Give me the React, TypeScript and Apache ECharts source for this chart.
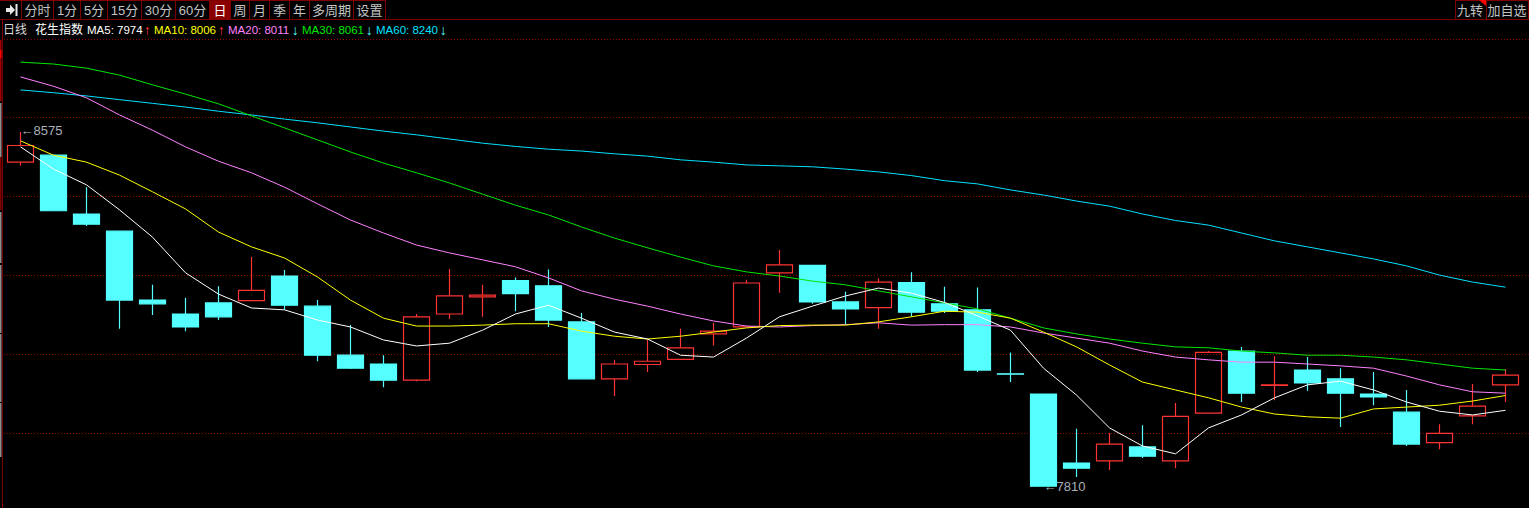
import React, { useEffect, useRef } from "react";
import * as echarts from "echarts";

const opens = [8510,8525,8398,8361,8212,8182,8206,8211,8264,8199,8093,8074,8039,8182,8219,8254,8243,8165,8042,8073,8084,8139,8154,8271,8287,8208,8196,8250,8204,8191,8053,8009,7860,7865,7895,7865,7968,8102,8028,8061,8042,8009,7970,7904,7962,8029];
const closes = [8546,8405,8376,8212,8204,8154,8176,8233,8201,8093,8065,8039,8176,8221,8223,8226,8169,8042,8074,8080,8109,8145,8249,8288,8208,8193,8251,8186,8188,8061,8052,7810,7849,7901,7875,7961,8099,8011,8029,8033,8011,8003,7901,7924,7983,8050];
const lows = [8502,8405,8372,8150,8180,8145,8169,8211,8191,8080,8063,8024,8037,8171,8176,8188,8154,8042,8005,8057,8084,8114,8154,8228,8204,8159,8150,8176,8184,8057,8035,7810,7830,7845,7871,7849,7968,7992,7996,8016,7938,7985,7897,7890,7944,7992];
const highs = [8575,8525,8456,8361,8245,8217,8242,8305,8277,8212,8158,8093,8182,8279,8245,8261,8278,8184,8083,8127,8150,8163,8256,8320,8287,8230,8259,8272,8241,8239,8099,8009,7934,7925,7942,7990,8102,8111,8091,8089,8065,8057,8018,7944,8031,8063];

const ma5 = [8543,8495,8461,8407,8348,8271,8225,8195,8191,8169,8154,8126,8113,8119,8147,8182,8201,8173,8143,8128,8093,8089,8130,8176,8199,8221,8238,8227,8207,8178,8147,8065,8007,7936,7897,7880,7936,7964,8001,8029,8037,8018,7992,7972,7964,7974];
const ma10 = [8556,8525,8510,8482,8446,8409,8359,8327,8303,8262,8212,8173,8156,8156,8158,8161,8161,8145,8134,8128,8134,8143,8152,8157,8158,8158,8165,8176,8188,8186,8173,8143,8111,8072,8035,8018,8001,7981,7966,7960,7957,7977,7981,7985,7994,8006];
const ma20 = [8694,8674,8649,8612,8579,8543,8512,8487,8456,8420,8385,8357,8331,8314,8299,8284,8260,8232,8214,8199,8182,8167,8156,8154,8157,8159,8163,8158,8159,8159,8154,8141,8130,8119,8102,8089,8083,8078,8078,8074,8070,8065,8048,8029,8014,8011];
const ma30 = [8726,8722,8713,8698,8677,8657,8636,8610,8584,8558,8532,8508,8487,8465,8441,8417,8396,8370,8346,8325,8305,8286,8273,8264,8253,8245,8232,8219,8206,8193,8173,8152,8139,8128,8119,8111,8109,8102,8098,8093,8093,8089,8083,8074,8065,8061];
const ma60 = [8666,8660,8653,8645,8637,8629,8620,8612,8603,8595,8586,8577,8569,8560,8551,8544,8538,8534,8528,8523,8515,8510,8504,8502,8500,8495,8489,8481,8470,8463,8450,8439,8426,8415,8398,8384,8374,8357,8340,8327,8314,8301,8286,8266,8251,8240];

const gridLevels = [8775, 8606, 8436, 8265, 8095, 7924];
const toolbarLabels = ["分时", "1分", "5分", "15分", "30分", "60分", "日", "周", "月", "季", "年", "多周期", "设置"];
const rightLabels = ["九转", "加自选"];
const maNames = ["MA5", "MA10", "MA20", "MA30", "MA60"];
const maLatest = [7974, 8006, 8011, 8061, 8240];
const maArrows = ["↑", "↑", "↓", "↓", "↓"];
const maColors = ["#ffffff", "#ffff00", "#ff80ff", "#00e600", "#00e0ff"];
const highLabel = 8575;
const lowLabel = 7810;

const categories = [...opens.map((_, i) => `D${i + 1}`), ""];
const FONT = '"Liberation Sans", "Noto Sans CJK SC", sans-serif';
const BORDER = "#800000";
const TEXT = "#c4c4c4";

function chrome(): any[] {
  const els: any[] = [];
  const seps = [21, 53, 80, 107, 141, 175, 209, 230, 249, 269, 289, 309, 353, 385];
  els.push({ type: "rect", shape: { x: 209, y: 0, width: 21, height: 19 }, style: { fill: "#8a0000" } });
  els.push({ type: "rect", shape: { x: 0, y: 19, width: 1529, height: 1 }, style: { fill: BORDER } });
  els.push({ type: "rect", shape: { x: 0, y: 0, width: 385, height: 1 }, style: { fill: BORDER } });
  els.push({ type: "rect", shape: { x: 1455, y: 0, width: 74, height: 1 }, style: { fill: BORDER } });
  els.push({ type: "rect", shape: { x: 2, y: 20, width: 1, height: 488 }, style: { fill: BORDER } });
  [...seps, 1455, 1486, 1528].forEach((x) =>
    els.push({ type: "rect", shape: { x, y: 0, width: 1, height: 19 }, style: { fill: BORDER } })
  );
  toolbarLabels.forEach((t, i) =>
    els.push({
      type: "text",
      x: (seps[i] + seps[i + 1]) / 2 + 0.5,
      y: 10,
      style: { text: t, fill: i === 6 ? "#ffffff" : TEXT, font: `13px ${FONT}`, align: "center", verticalAlign: "middle" },
    })
  );
  rightLabels.forEach((t, i) =>
    els.push({
      type: "text",
      x: [1470, 1507][i],
      y: 10,
      style: { text: t, fill: TEXT, font: `13px ${FONT}`, align: "center", verticalAlign: "middle" },
    })
  );
  els.push({ type: "polygon", shape: { points: [[1479, 0], [1486, 0], [1486, 6]] }, style: { fill: "#ff0000" } });
  els.push({
    type: "polygon",
    shape: { points: [[6, 8], [10, 8], [10, 4.5], [15, 10], [10, 15], [10, 12], [6, 12]] },
    style: { fill: "#e8e8e8" },
  });
  els.push({ type: "rect", shape: { x: 15.5, y: 4, width: 2, height: 12 }, style: { fill: "#e8e8e8" } });

  const head = (t: string, x: number, fill: string, size = 12) =>
    els.push({
      type: "text",
      x,
      y: 29.5,
      style: { text: t, fill, font: `${size}px ${FONT}`, verticalAlign: "middle" },
    });
  head("日线", 3, "#d8d8d8");
  head("花生指数", 35, "#ffffff");
  const xs = [87, 154, 228, 302, 376];
  const ax = [143.8, 217.8, 291.8, 365.8, 439.8];
  maNames.forEach((n, i) => {
    head(`${n}: ${maLatest[i]}`, xs[i], maColors[i], 11.5);
    head(maArrows[i], ax[i], maArrows[i] === "↑" ? "#ff3333" : "#55ffff", 14);
  });

  const strips: [number, number, string][] = [
    [40, 61, "#a00000"], [50, 8, "#ff0000"], [103, 54, "#909090"], [157, 53, "#800000"],
    [212, 51, "#909090"], [265, 68, "#909090"], [334, 68, "#909090"], [403, 54, "#909090"],
  ];
  strips.forEach(([y, h, c]) =>
    els.push({ type: "rect", shape: { x: 0, y, width: 1.5, height: h }, style: { fill: c } })
  );
  return els;
}

const lineSeries = (name: string, data: number[], color: string) => ({
  name,
  type: "line",
  data,
  symbol: "none",
  smooth: false,
  z: 5,
  lineStyle: { color, width: 1 },
  silent: true,
});

export default function App() {
  const ref = useRef<HTMLDivElement>(null);
  useEffect(() => {
    const chart = echarts.init(ref.current!, undefined, { renderer: "svg" });
    chart.setOption({
      animation: false,
      backgroundColor: "#000000",
      grid: { left: 4, top: 39, width: 33 * 47, height: 469, outerBoundsMode: "none", containLabel: false },
      xAxis: { type: "category", data: categories, boundaryGap: true, show: false },
      yAxis: { type: "value", min: 7763, max: 8776, show: false, splitLine: { show: false } },
      graphic: chrome(),
      series: [
        {
          name: "花生指数",
          type: "candlestick",
          barWidth: 27,
          z: 3,
          data: opens.map((o, i) => [o, closes[i], lows[i], highs[i]]),
          itemStyle: {
            color: "rgba(0,0,0,0)",
            color0: "#55ffff",
            borderColor: "#ff3333",
            borderColor0: "#55ffff",
            borderWidth: 1.2,
          },
          markLine: {
            silent: true,
            symbol: "none",
            label: { show: false },
            lineStyle: { color: "#8c0000", width: 1, type: [1, 2] },
            data: gridLevels.map((v) => ({ yAxis: v })),
            z: 1,
          },
          markPoint: {
            silent: true,
            symbol: "circle",
            symbolSize: 0,
            label: {
              show: true,
              position: "right",
              distance: 0,
              color: "#a9b0b8",
              fontSize: 13,
              fontFamily: FONT,
              formatter: (p: any) => `←${p.value}`,
            },
            data: [
              { coord: [0, highLabel], value: highLabel, label: { offset: [0, -2] } },
              { coord: [31, lowLabel], value: lowLabel },
            ],
          },
        },
        lineSeries("MA60", ma60, "#00e0ff"),
        lineSeries("MA30", ma30, "#00e600"),
        lineSeries("MA20", ma20, "#ff80ff"),
        lineSeries("MA10", ma10, "#ffff00"),
        lineSeries("MA5", ma5, "#ffffff"),
      ],
    });
    return () => chart.dispose();
  }, []);
  return (
    <div
      ref={ref}
      style={{ position: "fixed", left: 0, top: 0, width: 1529, height: 508, background: "#000" }}
    />
  );
}
